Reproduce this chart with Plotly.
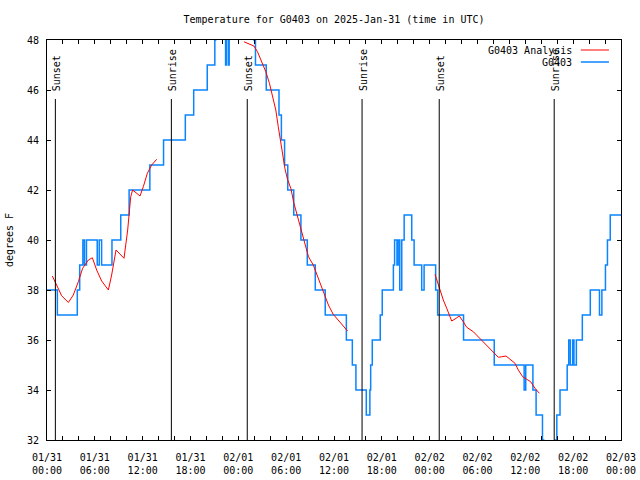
import pandas as pd
import plotly.graph_objects as go

START = pd.Timestamp("2025-01-31 00:00")

# Observed G0403 temperature (hours since 01/31 00:00 UTC, deg F), step series
obs_hours = [0, 1.3, 3.8, 4.1, 4.5, 4.7, 4.95, 6.3, 6.55, 6.85,
             8.15, 9.25, 10.3, 12.9, 14.62, 17.35, 18.4, 20.1, 21.05, 21.15, 22.4, 22.5,
             22.75, 22.85, 25.95, 26.15, 27.5, 29.1, 29.4, 29.8, 30.2, 30.95, 31.85,
             32.65, 33.65, 34.9, 37.55, 38.3, 38.75, 40.05, 40.5, 40.6, 40.8, 41.8, 42.05,
             43.45, 43.6, 43.9, 44.05, 44.25, 44.5, 44.8, 45.75, 46.05,
             47.0, 47.3, 48.75, 49.0, 52.25, 56.1, 59.85, 60.05, 60.95, 61.35, 62.15, 62.3,
             63.75, 63.95, 64.35, 65.25, 65.45, 65.65, 65.95, 66.1, 66.4, 67.15, 68.15,
             69.3, 69.6, 70.05, 70.3, 70.65, 72]
obs_temp = [38, 37, 38, 39, 40, 39, 40, 39, 40, 39,
            40, 41, 42, 43, 44, 45, 46, 47, 48, 49, 47, 49,
            47, 49, 48, 47, 46, 45, 44, 43, 42, 41, 40,
            39, 38, 37, 36, 35, 34, 33, 34, 35, 36, 37, 38,
            39, 40, 39, 40, 38, 40, 41, 40, 39,
            38, 39, 38, 37, 36, 35, 34, 35, 34, 33, 32, 31,
            32, 33, 34, 35, 36, 35, 36, 35, 36, 37, 38,
            37, 38, 39, 40, 41, 41]

# G0403 Analysis, three separate runs
ana1_hours = [0.67, 1.0, 1.42, 1.84, 2.68, 3.3, 3.93, 4.47, 5.19, 5.69, 6.23, 6.86, 7.7,
              8.11, 8.66, 9.66, 10.12, 10.5, 10.74, 11.25, 11.67, 12.08, 12.59, 13.13, 13.76]
ana1_temp = [38.56, 38.33, 38.0, 37.77, 37.5, 37.8, 38.33, 38.87, 39.2, 39.29, 38.8, 38.36, 38.0,
             38.6, 39.6, 39.27, 40.4, 41.73, 42.0, 41.87, 41.76, 42.13, 42.67, 43.0, 43.23]
ana2_hours = [24.7, 25.45, 25.95, 26.4, 26.95, 27.45, 27.9, 28.3, 28.7, 29.0, 29.25, 29.55,
              29.85, 30.15, 30.6, 30.95, 31.3, 31.65, 31.95, 32.35, 32.8, 33.4, 34.05, 34.65,
              35.3, 35.9, 36.55, 37.15, 37.7]
ana2_temp = [47.93, 47.84, 47.76, 47.53, 47.13, 46.73, 46.27, 45.73, 45.2, 44.55, 44.0, 43.35,
             42.85, 42.45, 42.05, 41.5, 41.1, 40.75, 40.4, 39.87, 39.33, 39.0, 38.47, 37.93,
             37.4, 37.03, 36.8, 36.56, 36.36]
ana3_hours = [48.67, 48.96, 49.3, 49.71, 50.14, 50.55, 50.76, 51.18, 51.72, 52.22, 52.64, 53.48,
              54.31, 55.15, 55.98, 56.61, 57.03, 57.58, 58.08, 58.7, 59.12, 59.67, 60.17, 60.67,
              61.21, 61.76]
ana3_temp = [38.63, 38.33, 38.0, 37.6, 37.27, 36.93, 36.76, 36.84, 36.96, 36.73, 36.51, 36.33,
             36.07, 35.8, 35.53, 35.31, 35.33, 35.36, 35.23, 35.07, 34.8, 34.53, 34.43, 34.33,
             34.07, 33.87]

# Sunset / sunrise markers
sun_hours = [1.05, 15.6, 25.12, 39.52, 49.2, 63.62]
sun_labels = ["Sunset", "Sunrise", "Sunset", "Sunrise", "Sunset", "Sunrise"]
sun_line_top = 45.64

y_min, y_max = 32, 48
x_span_hours = 72

BLUE = "#0a84ff"
RED = "#ff0000"
FONT = "DejaVu Sans Mono"


def to_time(hours):
    return [START + pd.Timedelta(hours=h) if h is not None else None for h in hours]


ana_hours = ana1_hours + [None] + ana2_hours + [None] + ana3_hours
ana_temp = ana1_temp + [None] + ana2_temp + [None] + ana3_temp

fig = go.Figure()
fig.add_trace(go.Scatter(
    x=to_time(obs_hours), y=obs_temp, mode="lines", name="G0403",
    line=dict(color=BLUE, width=1.5, shape="hv"), showlegend=False,
))
fig.add_trace(go.Scatter(
    x=to_time(ana_hours), y=ana_temp, mode="lines", name="G0403 Analysis",
    line=dict(color=RED, width=1), connectgaps=False, showlegend=False,
))

for h, lab in zip(sun_hours, sun_labels):
    t = START + pd.Timedelta(hours=h)
    fig.add_shape(type="line", xref="x", yref="y", x0=t, x1=t, y0=y_min, y1=sun_line_top,
                  line=dict(color="black", width=1))
    fig.add_annotation(x=t, y=sun_line_top, xref="x", yref="y", text=lab, textangle=-90,
                       showarrow=False, yanchor="bottom", xanchor="center", yshift=6, xshift=1,
                       font=dict(family=FONT, size=10, color="black"))

# gnuplot-style key: label right-aligned, line sample to its right
key_entries = [("G0403 Analysis", RED), ("G0403", BLUE)]
key_text_x = 0.918
key_line_x0, key_line_x1 = 0.930, 0.979
key_row_y = [0.975, 0.945]
for (lab, col), ky in zip(key_entries, key_row_y):
    fig.add_annotation(x=key_text_x, y=ky, xref="paper", yref="paper", text=lab,
                       showarrow=False, xanchor="right", yanchor="middle",
                       font=dict(family=FONT, size=10, color="black"))
    fig.add_shape(type="line", xref="paper", yref="paper", x0=key_line_x0, x1=key_line_x1,
                  y0=ky, y1=ky, line=dict(color=col, width=1.5 if col == BLUE else 1))

end = START + pd.Timedelta(hours=x_span_hours)

fig.update_layout(
    width=640, height=480,
    margin=dict(l=47, r=19, t=40, b=40, autoexpand=False),
    paper_bgcolor="white", plot_bgcolor="white",
    font=dict(family=FONT, size=10, color="black"),
    title=dict(text="Temperature for G0403 on 2025-Jan-31 (time in UTC)",
               x=0.5, xref="paper", y=1 - 19 / 480, yref="container",
               xanchor="center", yanchor="middle",
               font=dict(family=FONT, size=10, color="black")),
    showlegend=False,
    xaxis=dict(
        type="date", range=[START, end],
        dtick=6 * 3600 * 1000, tick0=START, tickformat="%m/%d<br>%H:%M",
        ticks="inside", ticklen=4, tickcolor="black", ticklabelstandoff=8,
        minor=dict(dtick=2 * 3600 * 1000, tick0=START, ticks="inside", ticklen=4, tickcolor="black"),
        showline=True, linecolor="black", linewidth=1, mirror="ticks",
        showgrid=False, zeroline=False,
        tickfont=dict(family=FONT, size=10, color="black"),
    ),
    yaxis=dict(
        range=[y_min, y_max], dtick=2, tick0=32,
        ticks="inside", ticklen=4, tickcolor="black", ticklabelstandoff=5,
        showline=True, linecolor="black", linewidth=1, mirror="ticks",
        showgrid=False, zeroline=False,
        title=dict(text="degrees F", standoff=11, font=dict(family=FONT, size=10, color="black")),
        tickfont=dict(family=FONT, size=10, color="black"),
    ),
)

fig.write_html("out.html", config={"displayModeBar": False},
               post_script="document.body.style.margin='0px';")
